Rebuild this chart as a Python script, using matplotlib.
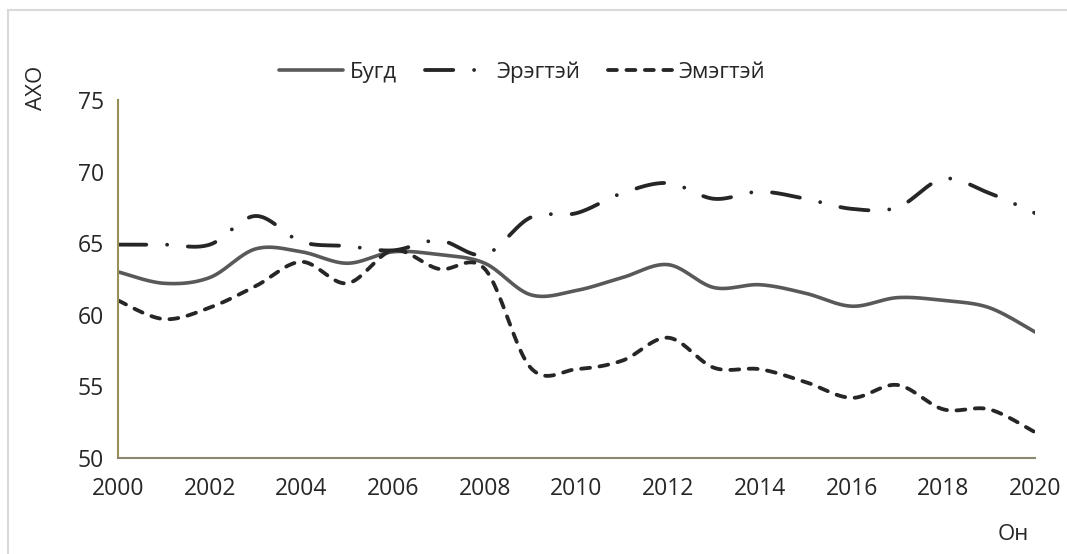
import numpy as np
import matplotlib.pyplot as plt
from matplotlib.lines import Line2D

# Data
years = list(range(2000, 2021))
total = [63.0, 62.2, 62.6, 64.6, 64.4, 63.6, 64.4, 64.2, 63.6, 61.4, 61.7,
         62.6, 63.5, 61.9, 62.1, 61.5, 60.6, 61.2, 61.0, 60.5, 58.8]
male = [64.9, 64.9, 64.9, 66.9, 65.1, 64.8, 64.5, 65.2, 64.2, 66.8, 67.1,
        68.5, 69.2, 68.1, 68.6, 68.1, 67.4, 67.5, 69.5, 68.5, 67.1]
female = [61.0, 59.7, 60.5, 62.0, 63.7, 62.2, 64.5, 63.2, 63.2, 56.3, 56.2,
          56.8, 58.4, 56.3, 56.2, 55.3, 54.2, 55.1, 53.4, 53.4, 51.8]
labels = ['Бугд', 'Эрэгтэй', 'Эмэгтэй']
xticks = list(range(2000, 2021, 2))
yticks = [50, 55, 60, 65, 70, 75]


def smooth(x, y, n=40):
    # Excel-like smoothed line: Catmull-Rom through the points as cubic Beziers
    p = np.column_stack([x, y]).astype(float)
    p = np.vstack([p[0], p, p[-1]])
    out = []
    t = np.linspace(0, 1, n)[:, None]
    for i in range(1, len(p) - 2):
        p0, p1, p2, p3 = p[i - 1], p[i], p[i + 1], p[i + 2]
        c1 = p1 + (p2 - p0) / 6
        c2 = p2 - (p3 - p1) / 6
        seg = ((1 - t) ** 3) * p1 + 3 * ((1 - t) ** 2) * t * c1 \
            + 3 * (1 - t) * t ** 2 * c2 + t ** 3 * p2
        out.append(seg if i == 1 else seg[1:])
    out = np.vstack(out)
    return out[:, 0], out[:, 1]


plt.rcParams['font.family'] = ['Open Sans', 'DejaVu Sans']

fig = plt.figure(figsize=(10.67, 5.54), dpi=100)
ax = fig.add_axes([118 / 1067, 1 - 458 / 554, (1035 - 118) / 1067, (458 - 100) / 554])

xs, ys = smooth(years, total)
ax.plot(xs, ys, color='#595959', lw=2.6, solid_capstyle='round', label=labels[0])

xs, ys = smooth(years, male)
ax.plot(xs, ys, color='#262626', lw=2.75, dash_capstyle='round',
        dashes=(7.4, 5.45, 0.01, 5.45), label=labels[1])

xs, ys = smooth(years, female)
ax.plot(xs, ys, color='#262626', lw=2.75, dash_capstyle='round',
        dashes=(2.33, 2.5), label=labels[2])

ax.set_xlim(2000, 2020)
ax.set_ylim(50, 75)
ax.set_xticks(xticks)
ax.set_yticks(yticks)
ax.tick_params(length=0, labelsize=16.5, colors='#262626', pad=10)
ax.tick_params(axis='x', pad=14)

for s in ['top', 'right']:
    ax.spines[s].set_visible(False)
ax.spines['left'].set_color('#9a8f57')
ax.spines['bottom'].set_color('#8b8870')
ax.spines['left'].set_linewidth(1.5)
ax.spines['bottom'].set_linewidth(1.5)

fig.legend(loc='center', bbox_to_anchor=(522 / 1067, 1 - 72 / 554), ncol=3,
           frameon=False, fontsize=16, handlelength=2.9, handletextpad=0.3,
           columnspacing=1.25, labelcolor='#262626')

fig.text(37 / 1067, 1 - 88 / 554, 'АХО', rotation=90, ha='center', va='center',
         fontsize=16, color='#262626')
fig.text(1013 / 1067, 1 - 535 / 554, 'Он', ha='center', va='center',
         fontsize=16, color='#262626')

# light chart-area border (top and left only, rest is cropped)
fig.add_artist(Line2D([8 / 1067, 1], [1 - 10 / 554, 1 - 10 / 554],
                      transform=fig.transFigure, color='#d9d9d9', lw=1.5))
fig.add_artist(Line2D([8 / 1067, 8 / 1067], [0, 1 - 10 / 554],
                      transform=fig.transFigure, color='#d9d9d9', lw=1.5))

fig.savefig('out.png', dpi=100)
